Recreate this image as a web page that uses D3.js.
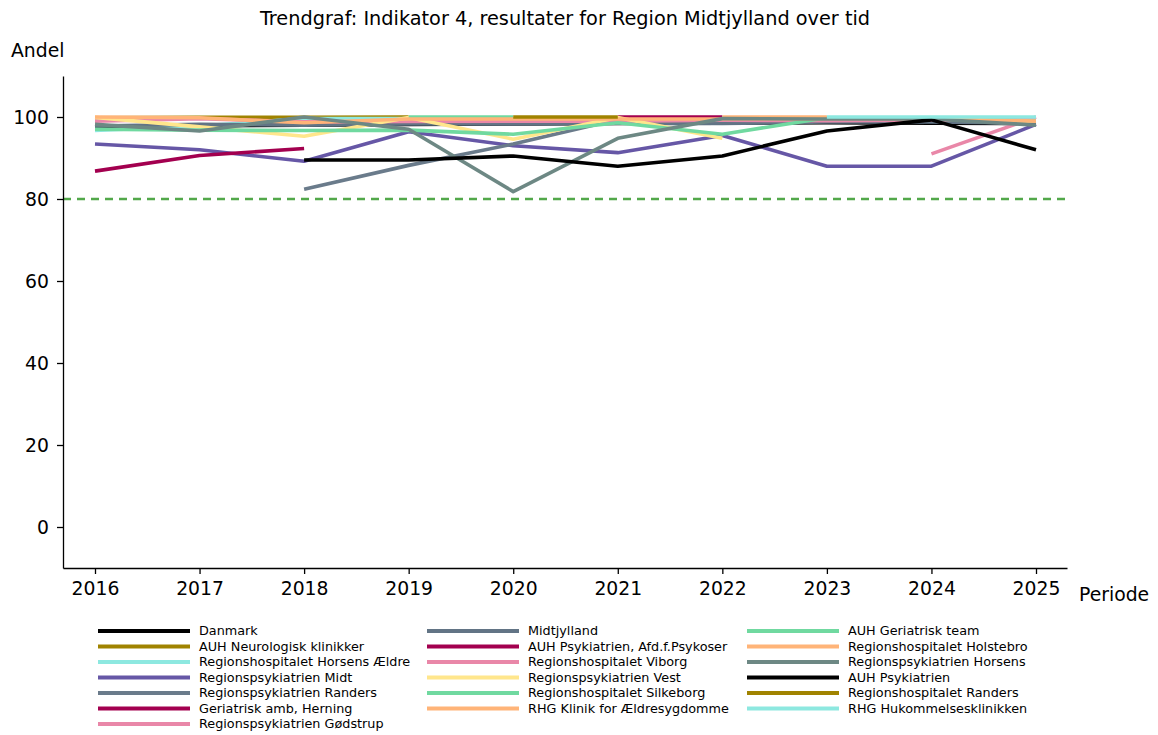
<!DOCTYPE html>
<html>
<head>
<meta charset="utf-8">
<script src="https://cdn.jsdelivr.net/npm/d3@7"></script>
<style>
  body { margin: 0; background: #fff; }
  text { font-family: "DejaVu Sans", sans-serif; fill: #000; }
</style>
</head>
<body>
<section></section>
<script>
const years = [2016, 2017, 2018, 2019, 2020, 2021, 2022, 2023, 2024, 2025];
const yTicks = [0, 20, 40, 60, 80, 100];
const target = 80;

const seriesNames = [
  "Danmark",
  "AUH Neurologisk klinikker",
  "Regionshospitalet Horsens Ældre",
  "Regionspsykiatrien Midt",
  "Regionspsykiatrien Randers",
  "Geriatrisk amb, Herning",
  "Regionspsykiatrien Gødstrup",
  "Midtjylland",
  "AUH Psykiatrien, Afd.f.Psykoser",
  "Regionshospitalet Viborg",
  "Regionspsykiatrien Vest",
  "Regionshospitalet Silkeborg",
  "RHG Klinik for Ældresygdomme",
  "AUH Geriatrisk team",
  "Regionshospitalet Holstebro",
  "Regionspsykiatrien Horsens",
  "AUH Psykiatrien",
  "Regionshospitalet Randers",
  "RHG Hukommelsesklinikken"
];

const seriesColors = [
  "#000000", "#a08300", "#8de8e0", "#6657a6", "#6a7b8b", "#a3004f", "#e987a8",
  "#627485", "#a3004f", "#e987a8", "#ffe68c", "#70d9a0", "#ffb478",
  "#70d9a0", "#ffb478", "#6d8884", "#000000", "#a08300", "#8de8e0"
];

const seriesValues = [
  [97.6, 97.9, 98.0, 98.2, 98.3, 98.4, 98.5, 98.6, 98.5, 98.4],
  [99.8, 99.9, 99.9, 100, null, null, null, null, null, null],
  [96.7, 97.8, 99.6, 99.6, 99.5, 99.4, 99.6, 99.7, 99.7, 99.7],
  [93.4, 92.0, 89.2, 96.4, 93.0, 91.3, 95.5, 88.0, 88.0, 98.2],
  [null, null, 82.4, 88.2, 93.4, 99.4, 99.5, 99.6, 99.5, 99.2],
  [86.8, 90.6, 92.3, null, null, null, null, null, null, null],
  [null, null, null, null, null, null, null, null, 91.0, 100],
  [97.8, 98.2, 98.0, 98.3, 98.3, 98.5, 98.4, 98.8, 98.8, 98.5],
  [null, null, null, null, null, 100, 100, null, null, null],
  [99.0, 99.6, 98.8, 98.9, 99.0, 99.0, 99.2, 99.1, 99.2, 99.4],
  [99.9, 97.6, 95.3, 99.9, 94.6, 99.9, 94.8, null, null, null],
  [97.0, 96.8, 96.7, 96.8, 95.8, 98.6, 95.8, 99.8, 99.8, 99.0],
  [null, null, null, null, null, null, 100, 100, null, null],
  [null, null, null, 100, 100, null, null, null, null, null],
  [100, 99.8, 98.6, 99.5, 99.5, 99.5, 99.5, 99.6, 99.6, 99.0],
  [98.2, 96.6, 100, 97.0, 81.8, 94.8, 99.6, 99.5, 99.5, 98.0],
  [null, null, 89.5, 89.5, 90.5, 88.0, 90.5, 96.6, 99.3, 92.0],
  [null, null, null, null, 100, 100, null, null, null, null],
  [null, null, null, null, null, null, null, 100, 100, 100]
];

const width = 1158;
const height = 735;

const svg = d3
  .select("section")
  .append("svg")
  .attr("width", width)
  .attr("height", height);

const xScale = d3
  .scaleLinear()
  .domain([2016 - 32 / 104.56, 2025 + 31 / 104.56])
  .range([63, 1067]);

const yScale = d3
  .scaleLinear()
  .domain([-10, 110])
  .range([568, 76]);

// title
svg
  .append("text")
  .attr("x", 565)
  .attr("y", 25)
  .attr("text-anchor", "middle")
  .style("font-size", "19.3px")
  .text("Trendgraf: Indikator 4, resultater for Region Midtjylland over tid");

svg
  .append("text")
  .attr("x", 11)
  .attr("y", 57)
  .style("font-size", "18.8px")
  .text("Andel");

svg
  .append("text")
  .attr("x", 1079)
  .attr("y", 601)
  .style("font-size", "18.8px")
  .text("Periode");

// target line
svg
  .append("line")
  .attr("x1", xScale.range()[0])
  .attr("x2", xScale.range()[1])
  .attr("y1", yScale(target))
  .attr("y2", yScale(target))
  .attr("stroke", "#52a84a")
  .attr("stroke-width", 2.4)
  .attr("stroke-dasharray", "8,6");

// lines
const line = d3
  .line()
  .defined(d => d[1] !== null)
  .x(d => xScale(d[0]))
  .y(d => yScale(d[1]));

seriesValues.forEach((vals, i) => {
  svg
    .append("path")
    .datum(years.map((yr, j) => [yr, vals[j]]))
    .attr("d", line)
    .attr("fill", "none")
    .attr("stroke", seriesColors[i])
    .attr("stroke-width", 3.6)
    .attr("stroke-linejoin", "round");
});

// axes
const xAxis = svg
  .append("g")
  .attr("transform", `translate(0,${yScale.range()[0]})`)
  .call(d3.axisBottom(xScale).tickValues(years).tickFormat(d3.format("d")).tickSize(6).tickSizeOuter(0).tickPadding(8));

const yAxis = svg
  .append("g")
  .attr("transform", `translate(${xScale.range()[0]},0)`)
  .call(d3.axisLeft(yScale).tickValues(yTicks).tickSize(6).tickSizeOuter(0).tickPadding(8));

[xAxis, yAxis].forEach(ax => {
  ax.select(".domain").attr("stroke", "#000").attr("stroke-width", 1.3);
  ax.selectAll(".tick line").attr("stroke", "#000").attr("stroke-width", 1.3);
  ax.selectAll(".tick text")
    .style("font-family", "DejaVu Sans, sans-serif")
    .style("font-size", "18.8px")
    .attr("fill", "#000");
});

// legend, filled column by column
const colX = [98, 427, 747];
const rowY = 631;
const rowStep = 15.5;

const legend = svg
  .selectAll("g.legend-item")
  .data(seriesNames)
  .enter()
  .append("g")
  .attr("class", "legend-item")
  .attr("transform", (d, i) => {
    const col = i < 7 ? 0 : i < 13 ? 1 : 2;
    const row = i < 7 ? i : i < 13 ? i - 7 : i - 13;
    return `translate(${colX[col]},${rowY + row * rowStep})`;
  });

legend
  .append("line")
  .attr("x1", 0)
  .attr("x2", 92)
  .attr("stroke", (d, i) => seriesColors[i])
  .attr("stroke-width", 4);

legend
  .append("text")
  .attr("x", 101)
  .attr("dy", "0.35em")
  .style("font-size", "12.8px")
  .text(d => d);
</script>
</body>
</html>
